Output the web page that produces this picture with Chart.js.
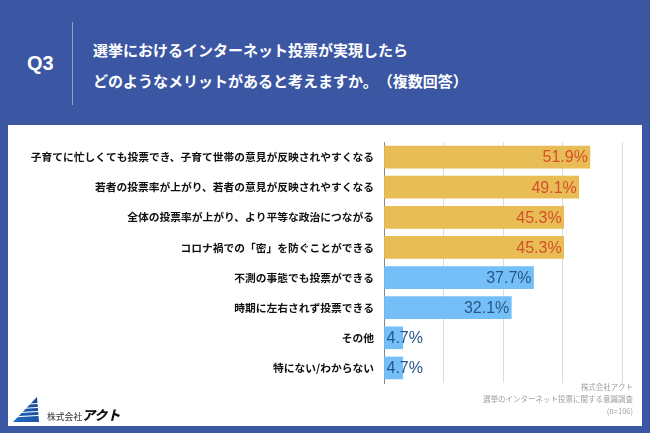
<!DOCTYPE html>
<html><head><meta charset="utf-8">
<script src="https://cdn.jsdelivr.net/npm/chart.js@4"></script>
<style>
html,body{margin:0;padding:0;}
body{width:650px;height:433px;background:#3b57a4;position:relative;overflow:hidden;font-family:"Noto Sans CJK JP",sans-serif;}
#q{position:absolute;left:27px;top:52px;color:#fff;font:bold 20px "Liberation Sans",Arial,sans-serif;}
#vl{position:absolute;left:72px;top:22px;width:1px;height:83px;background:#8fa0cf;}
#t{position:absolute;left:93px;top:34px;color:#fff;font:bold 15px/31px "Noto Sans CJK JP",sans-serif;white-space:nowrap;text-spacing-trim:space-all;}
#panel{position:absolute;left:8px;top:125px;width:634px;height:301px;background:#fff;}
#src{position:absolute;right:9px;top:256px;text-align:right;color:#a0a0a0;font:7.5px/12px "Noto Sans CJK JP",sans-serif;}
#logo{position:absolute;left:4px;top:271px;}
#lt1{position:absolute;left:39px;top:285px;font:8.8px "Noto Sans CJK JP",sans-serif;color:#333;}
#lt2{position:absolute;left:74px;top:280px;font:italic 900 13px "Noto Sans CJK JP",sans-serif;color:#111;}
</style></head>
<body>
<div id="q">Q3</div>
<div id="vl"></div>
<div id="t">選挙におけるインターネット投票が実現したら<br>どのようなメリットがあると考えますか。（複数回答）</div>
<div id="panel">
<canvas id="c" width="634" height="301"></canvas>
<div id="src">株式会社アクト<br>選挙のインターネット投票に関する意識調査<br>(n=106)</div>
<svg id="logo" width="34" height="28" viewBox="0 0 34 28">
<defs><linearGradient id="g" x1="0" y1="1" x2="1" y2="0"><stop offset="0" stop-color="#1d6fc0"/><stop offset="1" stop-color="#1a3f8f"/></linearGradient></defs>
<polygon points="1,26 25,1 27,26" fill="url(#g)"/>
<g stroke="#fff" stroke-width="1.2">
<line x1="0" y1="21" x2="34" y2="19"/><line x1="0" y1="17" x2="34" y2="15"/><line x1="0" y1="13" x2="34" y2="11"/><line x1="0" y1="9" x2="34" y2="7"/>
</g>
</svg>
<div id="lt1">株式会社</div>
<div id="lt2">アクト</div>
</div>
<script>
const categories = [
 "子育てに忙しくても投票でき、子育て世帯の意見が反映されやすくなる",
 "若者の投票率が上がり、若者の意見が反映されやすくなる",
 "全体の投票率が上がり、より平等な政治につながる",
 "コロナ禍での「密」を防ぐことができる",
 "不測の事態でも投票ができる",
 "時期に左右されず投票できる",
 "その他",
 "特にない/わからない"
];
const values = [51.9, 49.1, 45.3, 45.3, 37.7, 32.1, 4.7, 4.7];
const gold = "#e8bd55", blue = "#74bff8";
const barColors = values.map((v,i)=> i<4 ? gold : blue);
const labelColors = values.map((v,i)=> i<4 ? "#d5502b" : "#27578a");

const labelPlugin = {
  id:'vlabels',
  afterDatasetsDraw(chart){
    const ctx = chart.ctx;
    const meta = chart.getDatasetMeta(0);
    ctx.save();
    ctx.font = '16px "Liberation Sans", Arial, sans-serif';
    ctx.textBaseline = 'middle';
    meta.data.forEach((bar,i)=>{
      const txt = values[i].toFixed(1) + '%';
      const w = ctx.measureText(txt).width;
      ctx.fillStyle = labelColors[i];
      const bw = bar.x - bar.base;
      if (w + 6 < bw) { ctx.textAlign='right'; ctx.fillText(txt, bar.x-2, bar.y+1); }
      else { ctx.textAlign='left'; ctx.fillText(txt, bar.base+2, bar.y+1); }
    });
    ctx.restore();
  }
};

new Chart(document.getElementById('c'), {
  type:'bar',
  data:{ labels:categories, datasets:[{ data:values, backgroundColor:barColors, barThickness:22 }]},
  options:{
    indexAxis:'y', responsive:false, animation:false,
    layout:{ padding:{ top:17, right:20, bottom:43, left:0 } },
    plugins:{ legend:{display:false}, tooltip:{enabled:false} },
    scales:{
      x:{ min:0, max:60, ticks:{ display:false, stepSize:15 }, grid:{ color:'#dcdcdc', drawTicks:false }, border:{ display:false },
          afterFit(s){ s.height = 0; } },
      y:{ ticks:{ color:'#111', padding:10, font:{ family:'"Noto Sans CJK JP", sans-serif', size:10.75, weight:'bold' } },
          grid:{ display:false, drawTicks:false }, border:{ color:'#888', width:1 },
          afterFit(s){ s.width = 376; } }
    }
  },
  plugins:[labelPlugin]
});
</script>
</body></html>
